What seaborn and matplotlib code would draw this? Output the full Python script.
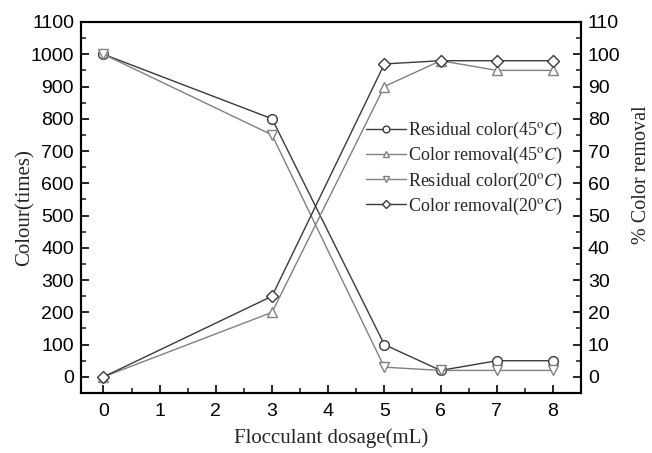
import matplotlib
matplotlib.use("Agg")
import matplotlib.pyplot as plt
import seaborn as sns
import pandas as pd
from matplotlib.ticker import MultipleLocator

dosage = [0, 3, 5, 6, 7, 8]
residual_45 = [1000, 800, 100, 20, 50, 50]
removal_45 = [0, 20, 90, 98, 95, 95]
residual_20 = [1000, 750, 30, 20, 20, 20]
removal_20 = [0, 25, 97, 98, 98, 98]

labels = [r"Residual color(45$^{\mathrm{o}}\mathit{C}$)",
          r"Color removal(45$^{\mathrm{o}}\mathit{C}$)",
          r"Residual color(20$^{\mathrm{o}}\mathit{C}$)",
          r"Color removal(20$^{\mathrm{o}}\mathit{C}$)"]

sns.set_style("ticks")
plt.rcParams['font.family'] = ['Liberation Sans', 'DejaVu Sans']
plt.rcParams['mathtext.fontset'] = 'stix'

fig = plt.figure(figsize=(6.52, 4.53), dpi=100)
ax = fig.add_axes([81/652, 1-393/453, 500/652, 371/453])
ax2 = ax.twinx()

df = pd.DataFrame({"dosage": dosage, "r45": residual_45, "c45": removal_45,
                   "r20": residual_20, "c20": removal_20})

dark = "#3a3a3a"
light = "#808080"
common = dict(markerfacecolor="white", markersize=7, linewidth=1.0, markeredgewidth=1.0)

sns.lineplot(data=df, x="dosage", y="r45", ax=ax, color=dark, marker="o",
             markeredgecolor=dark, label=labels[0], legend=False, **common)
sns.lineplot(data=df, x="dosage", y="r20", ax=ax, color=light, marker="v",
             markeredgecolor=light, label=labels[2], legend=False, **common)
sns.lineplot(data=df, x="dosage", y="c45", ax=ax2, color=light, marker="^",
             markeredgecolor=light, label=labels[1], legend=False, **common)
sns.lineplot(data=df, x="dosage", y="c20", ax=ax2, color=dark, marker="D",
             markeredgecolor=dark, label=labels[3], legend=False,
             markerfacecolor="white", markersize=6, linewidth=1.0, markeredgewidth=1.0)

ax.set_xlim(-0.4, 8.5)
ax.set_ylim(-50, 1100)
ax2.set_ylim(-5, 110)
ax.set_xticks(range(0, 9))
ax.xaxis.set_minor_locator(MultipleLocator(0.5))
ax.set_yticks(range(0, 1101, 100))
ax.yaxis.set_minor_locator(MultipleLocator(50))
ax2.set_yticks(range(0, 111, 10))
ax2.yaxis.set_minor_locator(MultipleLocator(5))

for a in (ax, ax2):
    a.tick_params(which='major', direction='in', length=6, width=1.2, labelsize=14,
                  colors='black', pad=5)
    a.tick_params(which='minor', direction='in', length=3.5, width=1.2)
    for s in a.spines.values():
        s.set_linewidth(1.5)
        s.set_color('black')
ax.tick_params(axis='x', which='major', pad=7)
ax.tick_params(axis='y', which='both', right=False)
ax.tick_params(axis='x', which='both', top=False)
ax2.tick_params(axis='y', which='both', left=False)

serif = ['Liberation Serif', 'DejaVu Serif']
ax.set_xlabel("Flocculant dosage(mL)", family=serif, fontsize=15, labelpad=6)
ax.set_ylabel("Colour(times)", family=serif, fontsize=15, labelpad=-3)
ax2.set_ylabel("% Color removal", family=serif, fontsize=14.5, rotation=90)
ax2.yaxis.label.set_verticalalignment('center')
ax2.yaxis.label.set_horizontalalignment('center')
ax2.yaxis.set_label_coords((642-81)/500, (393-175)/371)

h1, l1 = ax.get_legend_handles_labels()
h2, l2 = ax2.get_legend_handles_labels()
handles = [h1[0], h2[0], h1[1], h2[1]]
leg = ax2.legend(handles, labels, loc='upper left', bbox_to_anchor=(359/652, 1-113/453),
                 bbox_transform=fig.transFigure, frameon=False,
                 prop={'family': serif, 'size': 13}, handlelength=2.2, markerscale=0.7,
                 handletextpad=0.1, labelspacing=0.22, borderaxespad=0)

fig.savefig("out.png", dpi=100)
